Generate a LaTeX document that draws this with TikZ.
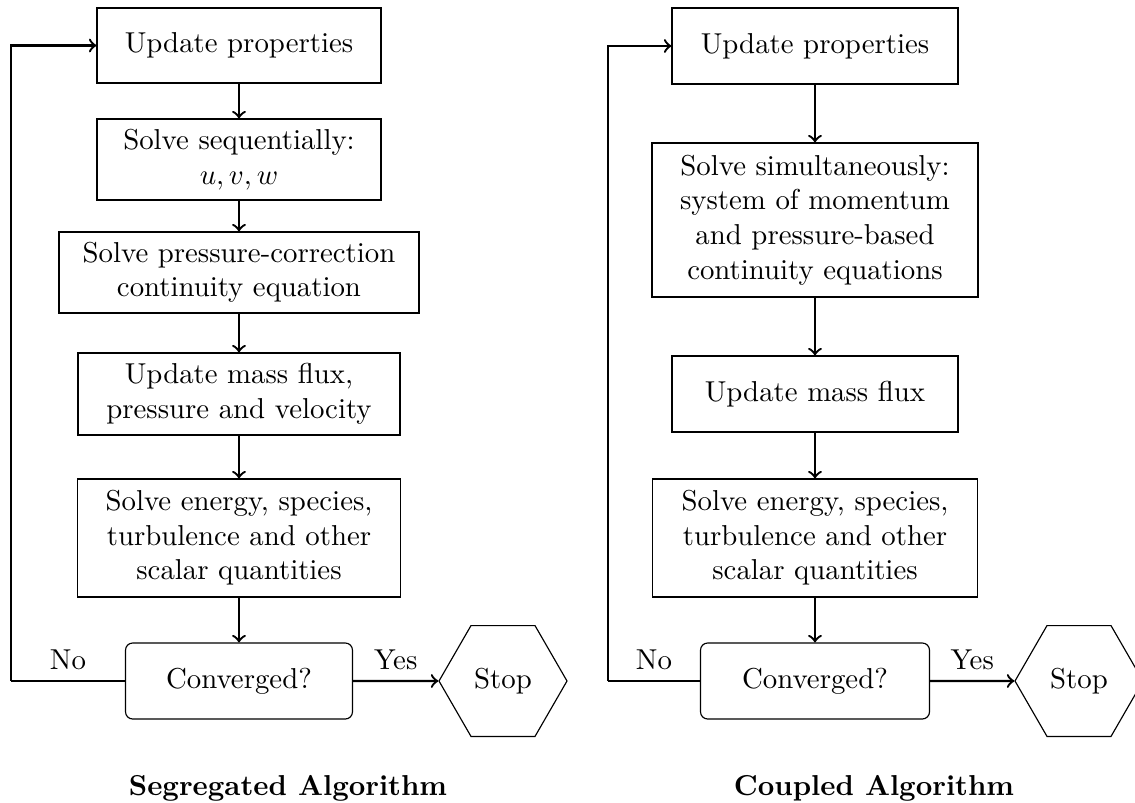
\documentclass[tikz,border=0pt]{standalone}
\usetikzlibrary{shapes.geometric}
\newcommand\pxu{0.3472pt}
\begin{document}
\begin{tikzpicture}[x=0.3472pt,y=-0.3472pt,
  proc/.style={draw, line width=0.4pt, align=center, inner sep=0pt},
  convbox/.style={proc, rounded corners=2.5pt},
  stopnode/.style={draw, line width=0.4pt, regular polygon, regular polygon sides=6, inner sep=0pt, minimum size=128*\pxu},
  arr/.style={->, thick},
  loopline/.style={thick},
  captext/.style={inner sep=0pt, anchor=base, font=\bfseries}]
\useasboundingbox (0,0) rectangle (1135,803);
% left column
\node[proc, minimum width=284*\pxu, minimum height=75*\pxu] (lup) at (239,45.5) {Update properties};
\node[proc, minimum width=284*\pxu, minimum height=81*\pxu] (lss) at (239,159.5) {Solve sequentially:\\ $u,v,w$};
\node[proc, minimum width=360*\pxu, minimum height=81*\pxu] (lpc) at (239,272.5) {Solve pressure-correction\\continuity equation};
\node[proc, minimum width=322*\pxu, minimum height=82*\pxu] (lumf) at (239,394) {Update mass flux,\\pressure and velocity};
\node[proc, minimum width=323*\pxu, minimum height=118*\pxu] (len) at (239,538) {Solve energy, species,\\turbulence and other\\scalar quantities};
\node[convbox, minimum width=227*\pxu, minimum height=76*\pxu] (lcv) at (239,681) {Converged?};
\node[stopnode] (lst) at (503,681) {Stop};
\coordinate (lc) at (11,681);
\coordinate (lt) at (11,45.5);
\draw[arr] (lup) -- (lss);
\draw[arr] (lss) -- (lpc);
\draw[arr] (lpc) -- (lumf);
\draw[arr] (lumf) -- (len);
\draw[arr] (len) -- (lcv);
\draw[arr] (lcv) -- node[above] {Yes} (lst);
\draw[loopline] (lcv.west) -- node[above] {No} (lc);
\draw[arr] (lc) -- (lt) -- (lup.west);
\node[captext] (lcap) at (288,795) {Segregated Algorithm};
% right column
\node[proc, minimum width=286*\pxu, minimum height=76*\pxu] (rup) at (815,46) {Update properties};
\node[proc, minimum width=326*\pxu, minimum height=154*\pxu] (rss) at (815,220) {Solve simultaneously:\\system of momentum\\and pressure-based\\continuity equations};
\node[proc, minimum width=286*\pxu, minimum height=76*\pxu] (rumf) at (815,394) {Update mass flux};
\node[proc, minimum width=325*\pxu, minimum height=118*\pxu] (ren) at (815,538) {Solve energy, species,\\turbulence and other\\scalar quantities};
\node[convbox, minimum width=229*\pxu, minimum height=76*\pxu] (rcv) at (815,681) {Converged?};
\node[stopnode] (rst) at (1079,681) {Stop};
\coordinate (rc) at (608,681);
\coordinate (rt) at (608,46);
\draw[arr] (rup) -- (rss);
\draw[arr] (rss) -- (rumf);
\draw[arr] (rumf) -- (ren);
\draw[arr] (ren) -- (rcv);
\draw[arr] (rcv) -- node[above] {Yes} (rst);
\draw[loopline] (rcv.west) -- node[above] {No} (rc);
\draw[arr] (rc) -- (rt) -- (rup.west);
\node[captext] (rcap) at (874,795) {Coupled Algorithm};
\end{tikzpicture}
\end{document}
